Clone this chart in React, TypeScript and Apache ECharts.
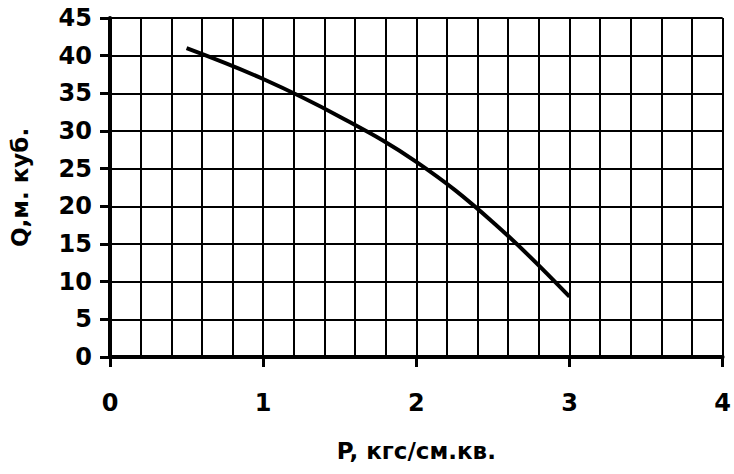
import React, { useEffect, useRef } from "react";
import * as echarts from "echarts";

const pressure = [0.5, 1.0, 1.5, 2.0, 2.5, 3.0];
const flow = [41.0, 36.9, 31.9, 25.9, 17.9, 8.0];
const xTitle = "P, кгс/см.кв.";
const yTitle = "Q,м. куб.";

const FONT = "DejaVu Sans";

export default function App() {
  const ref = useRef<HTMLDivElement>(null);
  useEffect(() => {
    if (!ref.current) return;
    const chart = echarts.init(ref.current, undefined, { renderer: "svg" });
    chart.setOption({
      animation: false,
      backgroundColor: "#ffffff",
      grid: { left: 108, top: 18, right: 10, bottom: 117, containLabel: false },
      xAxis: {
        type: "value",
        min: 0,
        max: 4,
        interval: 1,
        name: xTitle,
        nameLocation: "middle",
        nameGap: 82,
        nameTextStyle: { fontFamily: FONT, fontWeight: "bold", fontSize: 23, color: "#000" },
        axisLine: { show: true, onZero: false, lineStyle: { color: "#000", width: 4 } },
        axisTick: { show: true, length: 10, lineStyle: { color: "#000", width: 3 } },
        axisLabel: { margin: 34, fontFamily: FONT, fontWeight: "bold", fontSize: 24, color: "#000" },
        splitLine: { show: true, lineStyle: { color: "#000", width: 2 } },
        minorTick: { show: false, splitNumber: 5 },
        minorSplitLine: { show: true, lineStyle: { color: "#000", width: 2 } },
      },
      yAxis: {
        type: "value",
        min: 0,
        max: 45,
        interval: 5,
        name: yTitle,
        nameLocation: "middle",
        nameGap: 79,
        nameRotate: 90,
        nameTextStyle: { fontFamily: FONT, fontWeight: "bold", fontSize: 23, color: "#000" },
        axisLine: { show: true, onZero: false, lineStyle: { color: "#000", width: 4 } },
        axisTick: { show: true, length: 10, lineStyle: { color: "#000", width: 3 } },
        axisLabel: { margin: 18, fontFamily: FONT, fontWeight: "bold", fontSize: 24, color: "#000" },
        splitLine: { show: true, lineStyle: { color: "#000", width: 2 } },
      },
      series: [
        {
          type: "line",
          data: pressure.map((p, i) => [p, flow[i]]),
          smooth: 0.4,
          showSymbol: false,
          symbol: "none",
          lineStyle: { color: "#000", width: 4 },
        },
      ],
    });
    return () => chart.dispose();
  }, []);
  return <div ref={ref} style={{ width: 734, height: 474, position: "absolute", left: 0, top: 0 }} />;
}
